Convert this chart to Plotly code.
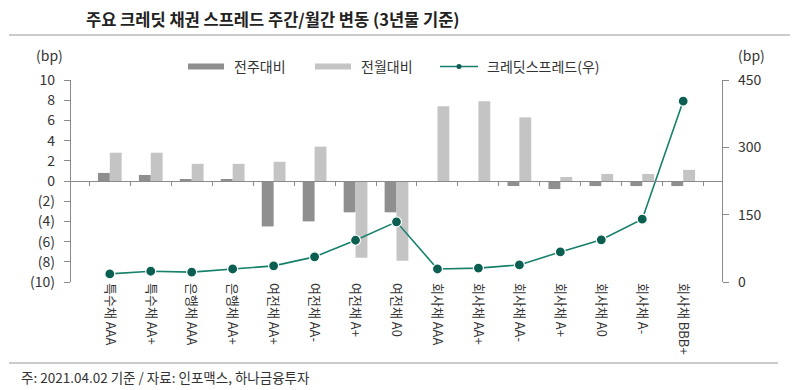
import plotly.graph_objects as go

categories = ["특수채 AAA", "특수채 AA+", "은행채 AAA", "은행채 AA+", "여전채 AA+", "여전채 AA-",
              "여전채 A+", "여전채 A0", "회사채 AAA", "회사채 AA+", "회사채 AA-", "회사채 A+",
              "회사채 A0", "회사채 A-", "회사채 BBB+"]
weekly_change = [0.8, 0.6, 0.15, 0.15, -4.5, -4.0, -3.1, -3.1, -0.05, -0.05, -0.5, -0.8, -0.5, -0.5, -0.5]
monthly_change = [2.8, 2.8, 1.7, 1.7, 1.9, 3.4, -7.6, -7.9, 7.4, 7.9, 6.3, 0.4, 0.7, 0.7, 1.1]
credit_spread = [18, 24, 22, 29, 36, 56, 93, 134, 29, 31, 38, 67, 94, 140, 403]

left_ticks = [10, 8, 6, 4, 2, 0, -2, -4, -6, -8, -10]
left_labels = ["10", "8", "6", "4", "2", "0", "(2)", "(4)", "(6)", "(8)", "(10)"]
right_ticks = [0, 150, 300, 450]

FONT = "Noto Sans CJK KR"
TXT = "#333333"
AX = "#8a8a8a"
DARK = "#8f8f8f"
LIGHT = "#c4c4c4"
LINE = "#16806c"
MARK = "#0b5f50"

# page body has an 8px default margin; figure is sized to fit the window
W, H, OFF = 790, 382, 8
PL, PR, PT, PB = 71, 722, 80, 282  # plot area in page pixels
PW, PH = PR - PL, PB - PT


def px(x):
    return (x - PL) / PW


def py(y):
    return (PB - y) / PH


fig = go.Figure()
fig.add_trace(go.Bar(x=categories, y=weekly_change, name="전주대비",
                     marker=dict(color=DARK, line=dict(width=0))))
fig.add_trace(go.Bar(x=categories, y=monthly_change, name="전월대비",
                     marker=dict(color=LIGHT, line=dict(width=0))))
fig.add_trace(go.Scatter(x=categories, y=credit_spread, name="크레딧스프레드(우)", yaxis="y2",
                         mode="lines+markers",
                         line=dict(color=LINE, width=1.6),
                         marker=dict(color=MARK, size=10, line=dict(color="white", width=1.2))))
# invisible trace on the overlay axis used for the zero-line with boundary ticks
fig.add_trace(go.Scatter(x=categories, y=[None] * len(categories), xaxis="x2", showlegend=False,
                         hoverinfo="skip"))

# legend drawn by hand (wide swatches as in the reference)
LEG_Y = 66.5
legend_shapes = [
    dict(type="rect", xref="paper", yref="paper", x0=px(188), x1=px(224), y0=py(LEG_Y - 3),
         y1=py(LEG_Y + 3), fillcolor=DARK, line=dict(width=0)),
    dict(type="rect", xref="paper", yref="paper", x0=px(315), x1=px(351), y0=py(LEG_Y - 3),
         y1=py(LEG_Y + 3), fillcolor=LIGHT, line=dict(width=0)),
    dict(type="line", xref="paper", yref="paper", x0=px(440), x1=px(478), y0=py(LEG_Y),
         y1=py(LEG_Y), line=dict(color=LINE, width=1.6)),
    dict(type="circle", xref="paper", yref="paper", x0=px(456.5), x1=px(461.5), y0=py(LEG_Y - 2.5),
         y1=py(LEG_Y + 2.5), fillcolor=MARK, line=dict(width=0)),
]
legend_texts = [
    dict(text="전주대비", x=px(232), y=py(LEG_Y)),
    dict(text="전월대비", x=px(359), y=py(LEG_Y)),
    dict(text="크레딧스프레드(우)", x=px(485), y=py(LEG_Y)),
]

fig.update_layout(
    width=W, height=H,
    margin=dict(l=PL - OFF, r=W - (PR - OFF), t=PT - OFF, b=H - (PB - OFF), autoexpand=False),
    paper_bgcolor="white", plot_bgcolor="white",
    font=dict(family=FONT, color=TXT, size=12),
    barmode="group", bargap=0.42, bargroupgap=0.0,
    showlegend=False,
    xaxis=dict(showline=False, ticks="", showgrid=False, zeroline=False, automargin=False,
               tickangle=90, tickfont=dict(size=13, color=TXT)),
    xaxis2=dict(overlaying="x", anchor="free", position=0.5, side="bottom",
                showline=True, linecolor=AX, linewidth=1.2, ticks="outside", tickson="boundaries",
                ticklen=4, tickcolor=AX, showticklabels=False, showgrid=False, zeroline=False,
                matches="x"),
    yaxis=dict(range=[-10, 10], tickvals=left_ticks, ticktext=left_labels, showgrid=False,
               zeroline=False, showline=True, linecolor=AX, linewidth=1.2, ticks="outside",
               ticklen=6, tickcolor=AX, tickfont=dict(size=14, color=TXT), ticklabelstandoff=6),
    yaxis2=dict(range=[0, 450], tickvals=right_ticks, overlaying="y", side="right", showgrid=False,
                zeroline=False, showline=True, linecolor=AX, linewidth=1.2, ticks="outside",
                ticklen=6, tickcolor=AX, tickfont=dict(size=14, color=TXT), ticklabelstandoff=6),
    annotations=[
        dict(text="<b>주요 크레딧 채권 스프레드 주간/월간 변동 (3년물 기준)</b>", xref="paper", yref="paper",
             x=px(84), y=py(19), xanchor="left", yanchor="middle", showarrow=False,
             font=dict(size=16.5, color="#222222")),
        dict(text="(bp)", xref="paper", yref="paper", x=px(49), y=py(55),
             xanchor="center", yanchor="middle", showarrow=False, font=dict(size=14, color=TXT)),
        dict(text="(bp)", xref="paper", yref="paper", x=px(751), y=py(55),
             xanchor="center", yanchor="middle", showarrow=False, font=dict(size=14, color=TXT)),
        dict(text="주: 2021.04.02 기준 / 자료: 인포맥스, 하나금융투자", xref="paper", yref="paper",
             x=px(19), y=py(377), xanchor="left", yanchor="middle",
             showarrow=False, font=dict(size=13.5, color=TXT)),
    ] + [dict(t, xref="paper", yref="paper", xanchor="left", yanchor="middle", showarrow=False,
              font=dict(size=14, color=TXT)) for t in legend_texts],
    shapes=[
        dict(type="line", xref="paper", yref="paper", x0=px(9), x1=px(790),
             y0=py(35), y1=py(35), line=dict(color="#9a9a9a", width=1.2)),
        dict(type="line", xref="paper", yref="paper", x0=px(9), x1=px(778),
             y0=py(363), y1=py(363), line=dict(color="#9a9a9a", width=1.2)),
    ] + legend_shapes,
)

fig.write_html("out.html")
